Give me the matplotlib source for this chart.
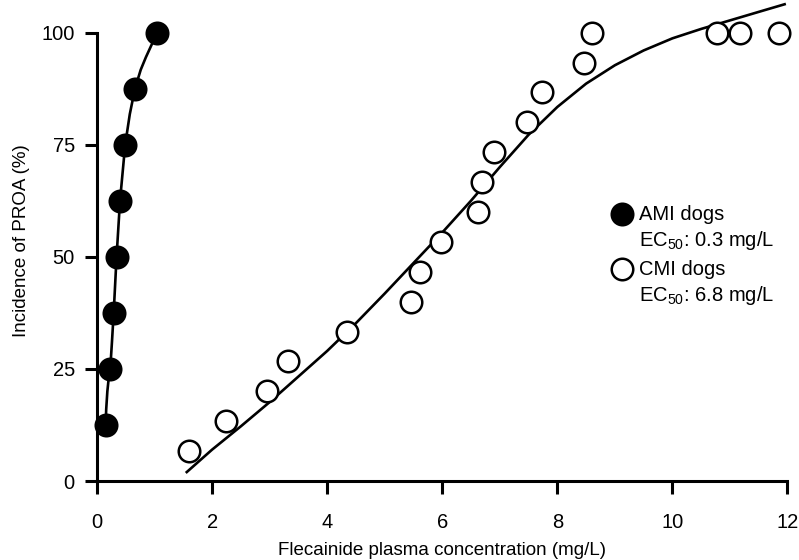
import numpy as np
import matplotlib
matplotlib.use("Agg")
import matplotlib.pyplot as plt

plt.rcParams['font.family'] = ['Liberation Sans', 'DejaVu Sans']
plt.rcParams['mathtext.default'] = 'regular'

# AMI dogs (filled circles)
ami_conc = [0.15, 0.23, 0.29, 0.34, 0.40, 0.49, 0.66, 1.05]
ami_inc = [12.5, 25, 37.5, 50, 62.5, 75, 87.5, 100]
# fitted curve
ami_curve_x = [0.15, 0.16, 0.18, 0.20, 0.23, 0.26, 0.29, 0.34, 0.40, 0.49, 0.57, 0.66, 0.76, 0.85, 0.95, 1.05]
ami_curve_y = [12.5, 16.0, 20.0, 22.5, 25, 31, 37.5, 50, 62.5, 75, 81.8, 87.5, 91.7, 94.5, 97.3, 100]

# CMI dogs (open circles)
cmi_conc = [1.60, 2.24, 2.95, 3.32, 4.35, 5.46, 5.61, 5.98, 6.63, 6.69, 6.90,
            7.47, 7.73, 8.47, 8.60, 10.78, 11.18, 11.85]
cmi_inc = [6.7, 13.3, 20.0, 26.7, 33.3, 40.0, 46.7, 53.3, 60.0, 66.7, 73.3,
           80.0, 86.7, 93.3, 100, 100, 100, 100]
cmi_curve_x = [1.56, 2.0, 2.5, 3.0, 3.5, 4.0, 4.5, 5.0, 5.5, 6.0, 6.5, 7.0, 7.5,
               8.0, 8.5, 9.0, 9.5, 10.0, 10.5, 11.0, 11.5, 11.95]
cmi_curve_y = [2.0, 7.0, 12.2, 17.6, 23.3, 29.0, 35.2, 41.8, 48.6, 55.4, 62.5, 70.0,
               77.2, 83.4, 88.6, 92.7, 96.0, 98.7, 100.8, 102.7, 104.6, 106.3]

xticks = [0, 2, 4, 6, 8, 10, 12]
yticks = [0, 25, 50, 75, 100]

fig = plt.figure(figsize=(7.99, 5.6), dpi=100)
ax = fig.add_axes([0.1214, 0.141, 0.8642, 0.857])

lw = 1.9
ax.plot(ami_curve_x, ami_curve_y, color='black', lw=lw, clip_on=False, zorder=2,
        solid_joinstyle='round')
ax.plot(cmi_curve_x, cmi_curve_y, color='black', lw=lw, clip_on=False, zorder=2,
        solid_joinstyle='round')
ax.plot(ami_conc, ami_inc, 'o', ms=15.5, mfc='black', mec='black', mew=1.8,
        clip_on=False, zorder=3)
ax.plot(cmi_conc, cmi_inc, 'o', ms=15.5, mfc='white', mec='black', mew=1.8,
        clip_on=False, zorder=3)

fs = 13.5
tfs = 14.5
ax.set_xlim(0, 12)
ax.set_ylim(0, 107)
ax.set_xticks(xticks)
ax.set_yticks(yticks)
for s in ['top', 'right']:
    ax.spines[s].set_visible(False)
for s in ['left', 'bottom']:
    ax.spines[s].set_linewidth(2.2)
ax.spines['left'].set_bounds(0, 100)
ax.tick_params(direction='out', length=9, width=2.2, labelsize=tfs)
ax.tick_params(axis='x', pad=14)
ax.tick_params(axis='y', pad=7)

ax.set_xlabel('Flecainide plasma concentration (mg/L)', fontsize=fs, labelpad=7)
ax.set_ylabel('Incidence of PROA (%)', fontsize=fs, labelpad=8)

# legend drawn by hand so the marker sits on the first line
ax.plot([9.13], [59.5], 'o', ms=15.5, mfc='black', mec='black', mew=1.8)
ax.plot([9.13], [47.2], 'o', ms=15.5, mfc='white', mec='black', mew=1.8)
ax.text(9.42, 59.5, 'AMI dogs', fontsize=tfs, va='center', ha='left')
ax.text(9.42, 53.6, 'EC$_{50}$: 0.3 mg/L', fontsize=tfs, va='center', ha='left')
ax.text(9.42, 47.2, 'CMI dogs', fontsize=tfs, va='center', ha='left')
ax.text(9.42, 41.3, 'EC$_{50}$: 6.8 mg/L', fontsize=tfs, va='center', ha='left')

fig.savefig('out.png', dpi=100)
